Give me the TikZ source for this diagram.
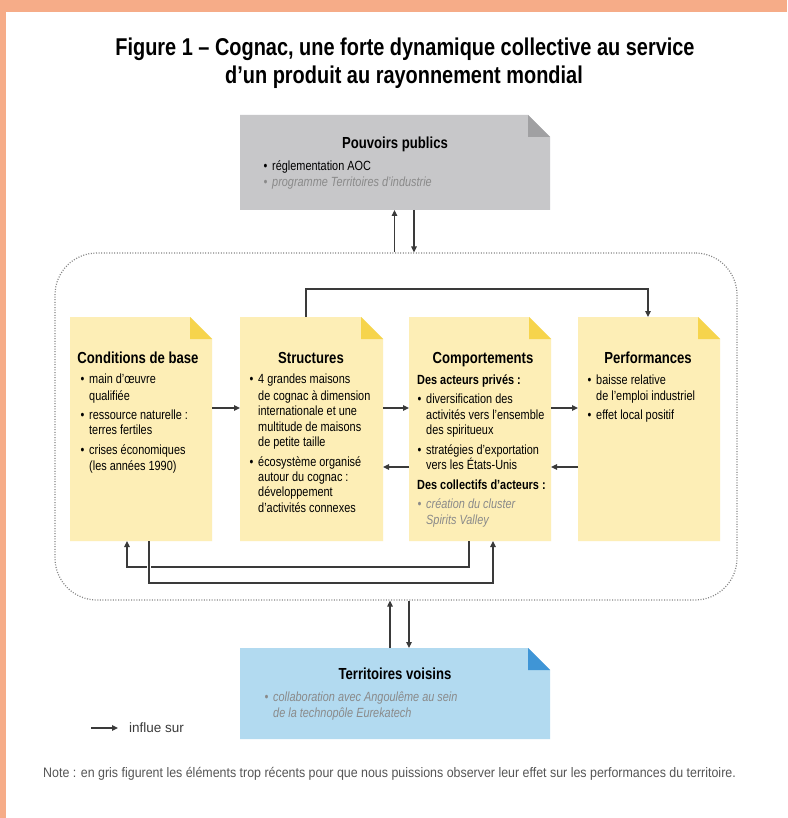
\documentclass[tikz,border=0pt]{standalone}
\usepackage{fontspec}
\setmainfont{Liberation Sans}[FakeStretch=0.82]
\newfontfamily\notefont{Liberation Sans}[FakeStretch=0.9]
\newfontfamily\legfont{Liberation Sans}
\usetikzlibrary{arrows.meta,calc}
\definecolor{salmon}{HTML}{F6AC88}
\definecolor{linec}{HTML}{3A3A3A}
\definecolor{grayfill}{HTML}{C7C7C9}
\definecolor{grayfold}{HTML}{A0A0A2}
\definecolor{yelfill}{HTML}{FDEEB6}
\definecolor{yelfold}{HTML}{F6D44C}
\definecolor{bluefill}{HTML}{B2DAF0}
\definecolor{bluefold}{HTML}{3F95D6}
\definecolor{greytext}{HTML}{8A8A8A}
\definecolor{dotc}{HTML}{858585}
\definecolor{notec}{HTML}{555555}
\newcommand\mkfoldbox[7]{%
  \fill[#6] (#2,#3) -- ({#4-22},#3) -- (#4,{#3+22}) -- (#4,#5) -- (#2,#5) -- cycle;
  \fill[#7] ({#4-22},#3) -- ({#4-22},{#3+22}) -- (#4,{#3+22}) -- cycle;
  \node[inner sep=0pt, outer sep=0pt, minimum width={(#4-#2)*1pt}, minimum height={(#5-#3)*1pt}] (#1) at ({(#2+#4)/2},{(#3+#5)/2}) {};
}
\newcommand\bulx{\llap{\makebox[8.5pt][l]{•}}}
\begin{document}
\begin{tikzpicture}[x=1pt,y=-1pt,
  ln/.style={anchor=base west, inner sep=0pt, font=\fontsize{13.3}{16}\selectfont},
  gln/.style={anchor=base west, inner sep=0pt, text=greytext, font=\fontsize{13.3}{16}\selectfont\itshape},
  bln/.style={anchor=base west, inner sep=0pt, font=\fontsize{13.3}{16}\selectfont\bfseries},
  bt/.style={anchor=base, inner sep=0pt, font=\fontsize{16}{19}\selectfont\bfseries},
  arr/.style={draw=linec, line width=1.2pt, -{Triangle[length=6pt,width=5.5pt]}},
  ttl/.style={anchor=base, inner sep=0pt, font=\fontsize{24.3}{28}\selectfont\bfseries}
]
\useasboundingbox (0,0) rectangle (787,818);
\fill[salmon] (0,0) rectangle (787,818);
\fill[white] (6,12) rectangle (787,818);

% title
\node[ttl] (t1) at (405,56) {Figure 1 – Cognac, une forte dynamique collective au service};
\node[ttl] (t2) at (404,84) {d’un produit au rayonnement mondial};

% dotted system frame
\node[draw=dotc, line width=1.2pt, dash pattern=on 1pt off 1.6pt, rounded corners=42pt,
      minimum width=682pt, minimum height=347pt, inner sep=0pt] (sys) at (396,426.5) {};

% boxes
\mkfoldbox{pp}{240}{115}{550}{210}{grayfill}{grayfold}
\mkfoldbox{cond}{70}{317}{212}{541}{yelfill}{yelfold}
\mkfoldbox{struct}{240}{317}{383}{541}{yelfill}{yelfold}
\mkfoldbox{comp}{409}{317}{551}{541}{yelfill}{yelfold}
\mkfoldbox{perf}{578}{317}{720}{541}{yelfill}{yelfold}
\mkfoldbox{tv}{240}{648}{550}{739}{bluefill}{bluefold}

% Pouvoirs publics
\node[bt] (ppt) at (395,149) {Pouvoirs publics};
\node[ln] (pp1) at (272,171) {\bulx réglementation AOC};
\node[gln] (pp2) at (272,187) {\bulx programme Territoires d’industrie};

% Conditions de base
\node[bt] (condt) at (138,363) {Conditions de base};
\foreach \y/\t [count=\i] in {383/{\bulx main d’œuvre}, 400/{qualifiée}, 419.5/{\bulx ressource naturelle :},
  434.5/{terres fertiles}, 454/{\bulx crises économiques}, 470/{(les années 1990)}}
  \node[ln] (cl\i) at (89,\y) {\t};

% Structures
\node[bt] (structt) at (311,363) {Structures};
\foreach \y/\t [count=\i] in {383.5/{\bulx 4 grandes maisons}, 400/{de cognac à dimension}, 415/{internationale et une},
  431/{multitude de maisons}, 446/{de petite taille}, 466/{\bulx écosystème organisé},
  481/{autour du cognac :}, 496/{développement}, 512/{d’activités connexes}}
  \node[ln] (sl\i) at (258,\y) {\t};

% Comportements
\node[bt] (compt) at (483,363) {Comportements};
\node[bln] (cb1) at (417,384) {Des acteurs privés :};
\foreach \y/\t [count=\i] in {403.5/{\bulx diversification des}, 419.5/{activités vers l’ensemble}, 434.5/{des spiritueux},
  454.5/{\bulx stratégies d’exportation}, 469.5/{vers les États-Unis}}
  \node[ln] (kl\i) at (426,\y) {\t};
\node[bln] (cb2) at (417,489.5) {Des collectifs d’acteurs :};
\node[gln] (kg1) at (426,508.5) {\bulx création du cluster};
\node[gln] (kg2) at (426,524) {Spirits Valley};

% Performances
\node[bt] (perft) at (648,363) {Performances};
\node[ln] (pl1) at (596,384) {\bulx baisse relative};
\node[ln] (pl2) at (596,400) {de l’emploi industriel};
\node[ln] (pl3) at (596,419.5) {\bulx effet local positif};

% Territoires voisins
\node[bt] (tvt) at (395,679) {Territoires voisins};
\node[gln] (tv1) at (273,701) {\bulx collaboration avec Angoulême au sein};
\node[gln] (tv2) at (273,717) {de la technopôle Eurekatech};

% arrows with external boxes
\draw[arr] ($(pp.south |- sys.north)+(-0.5,0)$) -- ($(pp.south)+(-0.5,0)$);
\draw[arr] ($(pp.south)+(19,0)$) -- ($(pp.south |- sys.north)+(19,0)$);
\draw[arr] ($(tv.north)+(-5,0)$) -- ($(tv.north |- sys.south)+(-5,0)$);
\draw[arr] ($(tv.north |- sys.south)+(14,0)$) -- ($(tv.north)+(14,0)$);

% horizontal arrows
\draw[arr] ([yshift=21pt]cond.east) -- ([yshift=21pt]struct.west);
\draw[arr] ([yshift=21pt]struct.east) -- ([yshift=21pt]comp.west);
\draw[arr] ([yshift=21pt]comp.east) -- ([yshift=21pt]perf.west);
\draw[arr] ([yshift=-38pt]perf.west) -- ([yshift=-38pt]comp.east);
\draw[arr] ([yshift=-38pt]comp.west) -- ([yshift=-38pt]struct.east);

% top loop
\draw[arr] ([xshift=-5.5pt]struct.north) -- ++(0,-28) -| ([xshift=-1pt]perf.north);

% bottom loops
\draw[arr] ([xshift=-11pt]comp.south) -- ++(0,26) -| ([xshift=-14pt]cond.south);
\draw[white, line width=4pt] ([xshift=8pt]cond.south) ++(0,21) -- ++(0,10);
\draw[arr] ([xshift=8pt]cond.south) -- ++(0,42) -| ([xshift=13pt]comp.south);

% legend
\coordinate (la) at (91,728);
\coordinate (lb) at (118,728);
\draw[arr] (la) -- (lb);
\node[anchor=base west, inner sep=0pt, font=\legfont\fontsize{13.5}{16}\selectfont, text=linec] (leg) at (129,732.5) {influe sur};

% note
\node[anchor=base west, inner sep=0pt, font=\notefont\fontsize{13.8}{16}\selectfont, text=notec] (note) at (43,777) {Note : en gris figurent les éléments trop récents pour que nous puissions observer leur effet sur les performances du territoire.};
\end{tikzpicture}
\end{document}
